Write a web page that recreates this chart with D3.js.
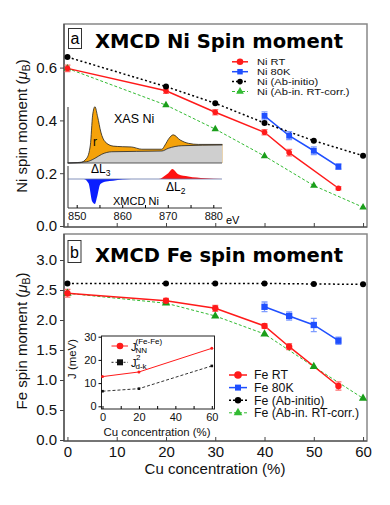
<!DOCTYPE html>
<html>
<head>
<meta charset="utf-8">
<script src="https://cdn.jsdelivr.net/npm/d3@7"></script>
<style>
  body{margin:0;background:#fff}
  svg{display:block;font-family:'Liberation Sans',Arial,sans-serif}
</style>
</head>
<body>
<div id="graph-container"></div>
<script>
// ---- Ni panel (a) ----
const niAbX = [0,20,30,40,50,60];
const niAb = [0.64,0.528,0.465,0.39,0.323,0.266];
const niRTX = [0,20,30,40,45,55];
const niRT = [0.597,0.512,0.431,0.355,0.278,0.143];
const niRTErr = [0.012,0.01,0.01,0.01,0.012,0.006];
const ni80X = [40,45,50,55];
const ni80 = [0.417,0.342,0.285,0.225];
const ni80Err = [0.015,0.015,0.015,0.01];
const niCorrX = [0,20,30,40,50,60];
const niCorr = [0.597,0.458,0.367,0.265,0.153,0.071];

// ---- Fe panel (b) ----
const feAbX = [0,20,30,40,50,60];
const feAb = [2.61,2.61,2.61,2.61,2.60,2.595];
const feRTX = [0,20,30,40,45,55];
const feRT = [2.445,2.32,2.195,1.9,1.555,0.9];
const feRTErr = [0.065,0.04,0.05,0.04,0.05,0.07];
const fe80X = [40,45,50,55];
const fe80 = [2.22,2.067,1.917,1.655];
const fe80Err = [0.08,0.07,0.11,0.06];
const feCorrX = [0,20,30,40,50,60];
const feCorr = [2.445,2.28,2.067,1.767,1.222,0.695];

// ---- exchange inset ----
const jConc = [0,20,60];
const jNN = [12.8,14.8,25.0];
const jDk = [6.5,7.6,17.4];

// ---- XAS / XMCD inset (energy eV, normalised intensity) ----
const xasE = [848,850.7,852.2,853.0,853.5,854.0,854.6,855.3,856.2,858.0,860,862,864.3,868.7,869.4,870.3,871.2,872.7,874.5,876.7,882];
const xas  = [0,0.005,0.085,0.32,0.85,1.0,0.82,0.55,0.38,0.3,0.29,0.285,0.245,0.245,0.32,0.44,0.5,0.41,0.35,0.33,0.33];
const stepE = [848,852.2,854,855.5,857.7,868.7,870.1,873.1,882];
const step  = [0,0.023,0.083,0.155,0.2,0.213,0.26,0.307,0.32];
const mcdE = [848,851.5,852.6,853.4,854.0,854.5,855.2,856.5,858,860,862,865,868,869.5,870.1,871.0,872.3,874.5,878.2,882];
const mcd  = [0,0,-0.17,-0.9,-1.0,-0.7,-0.2,-0.1,-0.07,-0.02,0,0,0,0.15,0.23,0.4,0.19,0.1,0.03,0];

const concTicks = [0,10,20,30,40,50,60];

const main = () => {
  const width = 390, height = 505;
  const RED = '#ff1a1a', BLUE = '#1f4fff', GREEN = '#1a9e1a', BLACK = '#000';

  const svg = d3.select('#graph-container').append('svg')
    .attr('width', width).attr('height', height)
    .attr('style','background:white');

  const x = d3.scaleLinear().domain([-0.7,60.8]).range([64,367]);
  const yNi = d3.scaleLinear().domain([0,0.6]).range([226,67.6]);
  const yFe = d3.scaleLinear().domain([0,3]).range([440,260]);

  const tri = d3.symbol(d3.symbolTriangle);
  const sq = d3.symbol(d3.symbolSquare);

  const drawMarkers = (g, xs, ys, y, kind, color, size) => {
    const pts = d3.zip(xs, ys);
    if (kind === 'circle') {
      g.selectAll(null).data(pts).join('circle')
        .attr('cx', d => x(d[0])).attr('cy', d => y(d[1]))
        .attr('r', size).attr('fill', color);
    } else {
      const sym = kind === 'square' ? sq : tri;
      g.selectAll(null).data(pts).join('path')
        .attr('transform', d => `translate(${x(d[0])},${y(d[1])})`)
        .attr('d', sym.size(size)())
        .attr('fill', color);
    }
  };

  const drawLine = (g, xs, ys, y, color, w, dash) => {
    g.append('path')
      .datum(d3.zip(xs, ys))
      .attr('d', d3.line().x(d => x(d[0])).y(d => y(d[1])))
      .attr('fill','none').attr('stroke', color).attr('stroke-width', w)
      .attr('stroke-dasharray', dash || null);
  };

  const drawErr = (g, xs, ys, es, y, color) => {
    const pts = d3.zip(xs, ys, es);
    g.selectAll(null).data(pts).join('path')
      .attr('d', d => {
        const cx = x(d[0]), y1 = y(d[1]-d[2]), y2 = y(d[1]+d[2]);
        return `M${cx},${y1}V${y2}M${cx-3},${y1}H${cx+3}M${cx-3},${y2}H${cx+3}`;
      })
      .attr('fill','none').attr('stroke', color).attr('stroke-width', 1.3);
  };

  const frame = (top, bottom) => {
    svg.append('rect').attr('x',64).attr('y',top).attr('width',303).attr('height',bottom-top)
      .attr('fill','none').attr('stroke','#888').attr('stroke-width',1.5);
    svg.append('path').attr('d',`M64,${top}V${bottom}H367`)
      .attr('fill','none').attr('stroke','#444').attr('stroke-width',1.2);
  };

  const yAxis = (y, ticks, fmt) => {
    const g = svg.append('g').attr('transform','translate(64,0)')
      .call(d3.axisLeft(y).tickValues(ticks).tickFormat(fmt).tickSize(4).tickPadding(3));
    g.select('.domain').remove();
    g.selectAll('text').attr('font-size',15).attr('fill','#111')
      .attr('font-family',"'Liberation Sans',Arial,sans-serif");
    g.selectAll('line').attr('stroke','#444');
  };

  const xAxis = (yPos, labels) => {
    const g = svg.append('g').attr('transform',`translate(0,${yPos})`)
      .call(d3.axisBottom(x).tickValues(concTicks).tickSize(-4).tickPadding(5)
        .tickFormat(labels ? d3.format('d') : () => ''));
    g.select('.domain').remove();
    g.selectAll('text').attr('font-size',15).attr('fill','#111')
      .attr('font-family',"'Liberation Sans',Arial,sans-serif");
    g.selectAll('line').attr('stroke','#444');
  };

  const panelTag = (letter, bx, by, bw, bh, title, ty) => {
    svg.append('rect').attr('x',bx).attr('y',by).attr('width',bw).attr('height',bh)
      .attr('fill','white').attr('stroke','#333').attr('stroke-width',1);
    svg.append('text').attr('x',bx+bw/2).attr('y',by+bh-5).attr('text-anchor','middle')
      .attr('font-size',16).text(letter);
    svg.append('text').attr('x',95).attr('y',ty)
      .attr('font-family',"'DejaVu Sans',sans-serif").attr('font-weight','bold')
      .attr('font-size',19.5).attr('textLength',248).attr('lengthAdjust','spacingAndGlyphs')
      .text(title);
  };

  // stretch: widen small legend text so it keeps the reference's width
  const legend = (items, ly, dy, fs, stretch, lineX0, lineX1, txtX) => {
    const g = svg.append('g');
    items.forEach((it, i) => {
      const yy = ly + i*dy;
      g.append('line').attr('x1',lineX0).attr('x2',lineX1).attr('y1',yy).attr('y2',yy)
        .attr('stroke',it.color).attr('stroke-width',it.w).attr('stroke-dasharray',it.dash||null);
      const mx = (lineX0+lineX1)/2;
      if (it.kind === 'circle') {
        g.append('circle').attr('cx',mx).attr('cy',yy).attr('r',it.size).attr('fill',it.color);
      } else {
        const sym = it.kind === 'square' ? sq : tri;
        g.append('path').attr('transform',`translate(${mx},${yy})`)
          .attr('d', sym.size(it.size)()).attr('fill',it.color);
      }
      const t = g.append('text').attr('x',txtX).attr('y',yy).attr('dy','0.36em')
        .attr('font-size',fs).attr('fill','#111').text(it.label);
      if (stretch !== 1) {
        const len = t.node().getComputedTextLength();
        t.attr('textLength', len*stretch).attr('lengthAdjust','spacingAndGlyphs');
      }
    });
  };

  // ================= panel a =================
  frame(24, 227);
  yAxis(yNi, [0,0.2,0.4,0.6], d3.format('.1f'));
  xAxis(227, false);

  // XAS / XMCD inset
  const eScale = d3.scaleLinear().domain([850,880]).range([76.7,213.3]);
  const xasY = d3.scaleLinear().domain([0,1]).range([163,106.7]);
  const mcdY = d3.scaleLinear().domain([-1,0]).range([204,179]);
  const ins = svg.append('g');
  const xasPts = d3.zip(xasE, xas);
  const stepPts = d3.zip(stepE, step);
  ins.append('path').datum(xasPts)
    .attr('d', d3.area().curve(d3.curveMonotoneX).x(d => eScale(d[0])).y0(xasY(0)).y1(d => xasY(d[1])))
    .attr('fill','#f5a20a');
  ins.append('path').datum(stepPts)
    .attr('d', d3.area().curve(d3.curveMonotoneX).x(d => eScale(d[0])).y0(xasY(0)).y1(d => xasY(d[1])))
    .attr('fill','#cfcfcf');
  ins.append('path').datum(xasPts)
    .attr('d', d3.line().curve(d3.curveMonotoneX).x(d => eScale(d[0])).y(d => xasY(d[1])))
    .attr('fill','none').attr('stroke','#222').attr('stroke-width',0.8);
  ins.append('path').datum(stepPts)
    .attr('d', d3.line().curve(d3.curveMonotoneX).x(d => eScale(d[0])).y(d => xasY(d[1])))
    .attr('fill','none').attr('stroke','#222').attr('stroke-width',0.8);
  ins.append('line').attr('x1',68).attr('x2',222).attr('y1',xasY(0)).attr('y2',xasY(0))
    .attr('stroke','#333').attr('stroke-width',0.8);

  const mcdPts = d3.zip(mcdE, mcd);
  const mcdArea = d3.area().curve(d3.curveMonotoneX).x(d => eScale(d[0])).y0(mcdY(0)).y1(d => mcdY(d[1]));
  ins.append('path').datum(mcdPts.filter(d => d[0] <= 865)).attr('d', mcdArea).attr('fill','#0a1eff');
  ins.append('path').datum(mcdPts.filter(d => d[0] >= 865)).attr('d', mcdArea).attr('fill','#ff1010');
  ins.append('line').attr('x1',68).attr('x2',222).attr('y1',mcdY(0)).attr('y2',mcdY(0))
    .attr('stroke','#6677aa').attr('stroke-width',0.8);

  // inset axes
  ins.append('path').attr('d','M68,107V163M68,166V208H222')
    .attr('fill','none').attr('stroke','#333').attr('stroke-width',1);
  const eAx = ins.append('g').attr('transform','translate(0,208)')
    .call(d3.axisBottom(eScale).tickValues(d3.range(850,885,5)).tickSize(-3).tickPadding(4)
      .tickFormat(d => d % 10 === 0 ? d : ''));
  eAx.select('.domain').remove();
  eAx.selectAll('text').attr('font-size',11).attr('fill','#111')
    .attr('font-family',"'Liberation Sans',Arial,sans-serif");
  ins.append('text').attr('x',226).attr('y',224).attr('font-size',11).text('eV');
  ins.append('text').attr('x',114).attr('y',123).attr('font-size',12.5).text('XAS Ni');
  ins.append('text').attr('x',93).attr('y',146).attr('font-size',12).text('r');
  ins.append('text').attr('x',113).attr('y',205).attr('font-size',11).text('XMCD Ni');
  const dl3 = ins.append('text').attr('x',91).attr('y',173).attr('font-size',12);
  dl3.append('tspan').text('ΔL');
  dl3.append('tspan').attr('font-size',8.5).attr('dy',3).text('3');
  const dl2 = ins.append('text').attr('x',166).attr('y',191).attr('font-size',12);
  dl2.append('tspan').text('ΔL');
  dl2.append('tspan').attr('font-size',8.5).attr('dy',3).text('2');

  // main Ni series
  const ga = svg.append('g');
  drawLine(ga, niCorrX, niCorr, yNi, '#33bb33', 1, '3,2');
  drawLine(ga, niRTX, niRT, yNi, RED, 1.5);
  drawLine(ga, ni80X, ni80, yNi, BLUE, 1.5);
  drawLine(ga, niAbX, niAb, yNi, BLACK, 1.5, '2,2.5');
  drawErr(ga, niRTX, niRT, niRTErr, yNi, '#ff7070');
  drawErr(ga, ni80X, ni80, ni80Err, yNi, '#7f9dff');
  drawMarkers(ga, niCorrX, niCorr, yNi, 'triangle', GREEN, 24);
  drawMarkers(ga, niRTX, niRT, yNi, 'circle', RED, 2.8);
  drawMarkers(ga, ni80X, ni80, yNi, 'square', BLUE, 34);
  drawMarkers(ga, niAbX, niAb, yNi, 'circle', BLACK, 3);

  panelTag('a', 68.5, 28.5, 13, 20, 'XMCD Ni Spin moment', 48);
  legend([
    {label:'Ni RT', color:RED, w:1.5, kind:'circle', size:3.3},
    {label:'Ni 80K', color:BLUE, w:1.5, kind:'square', size:30},
    {label:'Ni (Ab-initio)', color:BLACK, w:1.5, dash:'2,2', kind:'circle', size:2.8},
    {label:'Ni (Ab-in. RT-corr.)', color:'#33bb33', w:1, dash:'3,2', kind:'triangle', size:26}
  ], 61.8, 9.9, 9.6, 1.16, 232, 248, 257);

  svg.append('text').attr('transform','translate(27,126) rotate(-90)')
    .attr('text-anchor','middle').attr('font-size',15).attr('fill','#111')
    .call(t => {
      t.append('tspan').text('Ni spin moment (');
      t.append('tspan').attr('font-style','italic').text('μ');
      t.append('tspan').attr('font-size',10.5).attr('dy',3).text('B');
      t.append('tspan').attr('dy',-3).text(')');
    });

  // ================= panel b =================
  frame(234, 441);
  yAxis(yFe, [0,0.5,1,1.5,2,2.5,3], d3.format('.1f'));
  xAxis(441, true);

  const gb = svg.append('g');
  drawLine(gb, feAbX, feAb, yFe, BLACK, 1.5, '2,2.5');
  drawLine(gb, feCorrX, feCorr, yFe, '#33bb33', 1, '3,2');
  drawLine(gb, feRTX, feRT, yFe, RED, 1.5);
  drawLine(gb, fe80X, fe80, yFe, BLUE, 1.5);
  drawErr(gb, feRTX, feRT, feRTErr, yFe, '#ff7070');
  drawErr(gb, fe80X, fe80, fe80Err, yFe, '#7f9dff');
  drawMarkers(gb, feAbX, feAb, yFe, 'circle', BLACK, 3);
  drawMarkers(gb, feCorrX, feCorr, yFe, 'triangle', GREEN, 30);
  drawMarkers(gb, feRTX, feRT, yFe, 'circle', RED, 3.2);
  drawMarkers(gb, fe80X, fe80, yFe, 'square', BLUE, 40);

  panelTag('b', 68, 240.5, 13, 22, 'XMCD Fe spin moment', 262);
  legend([
    {label:'Fe RT', color:RED, w:1.5, kind:'circle', size:3.8},
    {label:'Fe 80K', color:BLUE, w:1.5, kind:'square', size:36},
    {label:'Fe (Ab-initio)', color:BLACK, w:1.5, dash:'2,2', kind:'circle', size:3.2},
    {label:'Fe (Ab-in. RT-corr.)', color:'#33bb33', w:1, dash:'3,2', kind:'triangle', size:32}
  ], 375, 12.6, 12.3, 1, 229, 247, 254);

  svg.append('text').attr('transform','translate(27,341) rotate(-90)')
    .attr('text-anchor','middle').attr('font-size',15).attr('fill','#111')
    .call(t => {
      t.append('tspan').text('Fe spin moment (');
      t.append('tspan').attr('font-style','italic').text('μ');
      t.append('tspan').attr('font-size',10.5).attr('dy',3).text('B');
      t.append('tspan').attr('dy',-3).text(')');
    });

  svg.append('text').attr('x',215).attr('y',474).attr('text-anchor','middle')
    .attr('font-size',15).attr('fill','#111').text('Cu concentration (%)');

  // J inset
  const jx = d3.scaleLinear().domain([0,60]).range([102.5,211.8]);
  const jy = d3.scaleLinear().domain([0,30]).range([406.3,336.7]);
  const jg = svg.append('g');
  jg.append('rect').attr('x',101.5).attr('y',336).attr('width',113).attr('height',73)
    .attr('fill','white').attr('stroke','#222').attr('stroke-width',1);
  const jyAx = jg.append('g').attr('transform','translate(101.5,0)')
    .call(d3.axisLeft(jy).tickValues([0,10,20,30]).tickSize(3).tickPadding(2));
  jyAx.select('.domain').remove();
  jyAx.selectAll('text').attr('font-size',11).attr('fill','#111')
    .attr('font-family',"'Liberation Sans',Arial,sans-serif");
  const jxAx = jg.append('g').attr('transform','translate(0,409)')
    .call(d3.axisBottom(jx).tickValues([0,10,20,30,40,50,60]).tickSize(-3).tickPadding(4)
      .tickFormat(d => d % 20 === 0 ? d : ''));
  jxAx.select('.domain').remove();
  jxAx.selectAll('text').attr('font-size',11).attr('fill','#111')
    .attr('font-family',"'Liberation Sans',Arial,sans-serif");
  jg.append('text').attr('x',157).attr('y',436).attr('text-anchor','middle')
    .attr('font-size',11.4).attr('fill','#111').text('Cu concentration (%)');
  jg.append('text').attr('transform','translate(76,359) rotate(-90)').attr('text-anchor','middle')
    .attr('font-size',11.4).attr('fill','#111').text('J (meV)');

  const jline = d3.line().x(d => jx(d[0])).y(d => jy(d[1]));
  jg.append('path').datum(d3.zip(jConc, jNN)).attr('d', jline)
    .attr('fill','none').attr('stroke',RED).attr('stroke-width',1);
  jg.append('path').datum(d3.zip(jConc, jDk)).attr('d', jline)
    .attr('fill','none').attr('stroke','#333').attr('stroke-width',1).attr('stroke-dasharray','3,2');
  jg.selectAll('circle.jnn').data(d3.zip(jConc, jNN)).join('circle').attr('class','jnn')
    .attr('cx', d => jx(d[0])).attr('cy', d => jy(d[1])).attr('r',1.5).attr('fill',RED);
  jg.selectAll('rect.jdk').data(d3.zip(jConc, jDk)).join('rect').attr('class','jdk')
    .attr('x', d => jx(d[0])-1.3).attr('y', d => jy(d[1])-1.3).attr('width',2.6).attr('height',2.6).attr('fill','#111');

  // inset legend
  jg.append('line').attr('x1',111.5).attr('x2',128).attr('y1',346).attr('y2',346)
    .attr('stroke',RED).attr('stroke-width',1);
  jg.append('circle').attr('cx',120).attr('cy',346).attr('r',3.3).attr('fill',RED);
  jg.append('line').attr('x1',111.5).attr('x2',128).attr('y1',362.3).attr('y2',362.3)
    .attr('stroke','#222').attr('stroke-width',1).attr('stroke-dasharray','2,2');
  jg.append('rect').attr('x',117).attr('y',359.3).attr('width',6).attr('height',6).attr('fill','#111');
  jg.append('text').attr('x',131).attr('y',350.5).attr('font-size',11).text('J');
  jg.append('text').attr('x',135.5).attr('y',344).attr('font-size',8).text('(Fe-Fe)');
  jg.append('text').attr('x',135.5).attr('y',352.5).attr('font-size',8).text('NN');
  jg.append('text').attr('x',131).attr('y',366.5).attr('font-size',11).text('J');
  jg.append('text').attr('x',136).attr('y',360).attr('font-size',8).text('2');
  jg.append('text').attr('x',135.5).attr('y',368.5).attr('font-size',8).text('d-k');
};

main();
</script>
</body>
</html>
